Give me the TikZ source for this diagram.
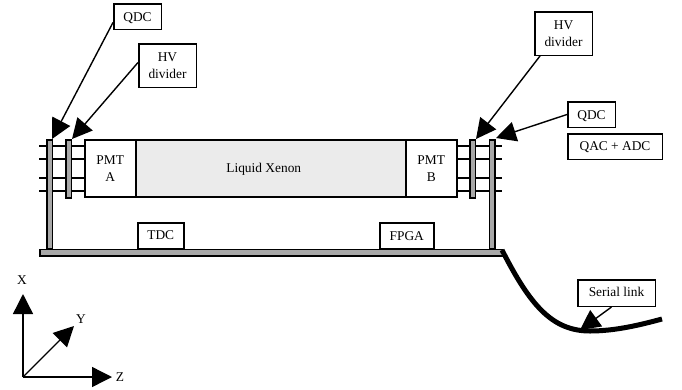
\documentclass[tikz,border=0pt]{standalone}
\usepackage{fontspec}
\setmainfont{Liberation Serif}
\usetikzlibrary{arrows.meta}
\definecolor{bargray}{gray}{0.66}
\definecolor{xenon}{gray}{0.92}
\newcommand{\dn}[2]{\raisebox{-#1pt}[0.7em][0.2em]{#2}}
\tikzset{
  x=1pt,y=-1pt,
  box/.style={draw=black,line width=1.5pt,fill=white,inner sep=0pt,font=\fontsize{13.4}{16.8}\selectfont,align=center,anchor=north west},
  bar/.style={draw=black,line width=1.5pt,fill=bargray,inner sep=0pt,anchor=north west},
  wire/.style={black,line width=1.4pt},
  pointer/.style={black,line width=1.4pt,-{Triangle[length=20pt,width=20pt]}},
  axis/.style={black,line width=1.4pt,-{Triangle[length=20pt,width=20pt]}},
  lab/.style={inner sep=0pt,font=\fontsize{13.4}{15.5}\selectfont},
}
\begin{document}
\begin{tikzpicture}
\useasboundingbox (0,0) rectangle (682,389);
% wires
\foreach \y in {146,159,178,191}{
  \draw[wire] (39,\y) -- (84,\y);
  \draw[wire] (457,\y) -- (502,\y);
}
% detector
\node[box,fill=xenon,minimum width=270pt,minimum height=57pt] (xe) at (135,139) {\mbox{\dn{0.5}{Liquid Xenon}\hspace{14pt}}};
\node[box,minimum width=51pt,minimum height=57pt] (pmta) at (84,139) {PMT\\A};
\node[box,minimum width=51pt,minimum height=57pt] (pmtb) at (405,139) {PMT\\B};
% bars
\node[bar,minimum width=5.5pt,minimum height=109pt] (qdcbarl) at (46,139) {};
\node[bar,minimum width=5.5pt,minimum height=58pt] (hvbarl) at (65,139) {};
\node[bar,minimum width=5.5pt,minimum height=58pt] (hvbarr) at (469,139) {};
\node[bar,minimum width=5.5pt,minimum height=109pt] (qdcbarr) at (488.5,139) {};
\node[bar,minimum width=462.5pt,minimum height=6.5pt] (base) at (39,248.5) {};
\node[box,minimum width=46pt,minimum height=26pt] (tdc) at (137,222) {\dn{0.5}{TDC}};
\node[box,minimum width=54pt,minimum height=26pt] (fpga) at (379,222) {\dn{1}{FPGA}};
% labels
\node[box,minimum width=47.5pt,minimum height=25.5pt] (qdcl) at (113,3) {\dn{1.5}{QDC}};
\node[box,minimum width=57.5pt,minimum height=43.5pt] (hvl) at (138,43) {HV\\divider};
\node[box,minimum width=57.5pt,minimum height=43.5pt] (hvr) at (534,11) {HV\\divider};
\node[box,minimum width=47.5pt,minimum height=25.5pt] (qdcr) at (567,101) {\dn{1.5}{QDC}};
\node[box,minimum width=94.5pt,minimum height=25.5pt] (qac) at (567,133) {\dn{1}{QAC + ADC}};
\node[box,minimum width=77.5pt,minimum height=26.5pt] (serial) at (577,279) {\dn{0}{Serial link}};
% pointers
\coordinate (t1) at (52,139); \coordinate (t2) at (72,139);
\coordinate (t3) at (476,139); \coordinate (t4) at (496,138);
\coordinate (t5) at (580,330);
\draw[pointer] (qdcl.west) ++(0,6) -- (t1);
\draw[pointer] (hvl.west) ++(0,-3) -- (t2);
\draw[pointer] (hvr.south west) ++(6,0) -- (t3);
\draw[pointer] (qdcr.west) -- (t4);
\draw[pointer] (serial.south) ++(-5,0) -- (t5);
% cable
\coordinate (c0) at (502,250); \coordinate (c1) at (662,319);
\draw[black,line width=5pt] (c0) .. controls (530,305) and (552,331) .. (590,331) .. controls (615,331) and (640,325) .. (c1);
% axes
\coordinate (o) at (23,377);
\coordinate (xt) at (23,294); \coordinate (yt) at (74,326); \coordinate (zt) at (112,377);
\draw[axis] (o) -- (xt);
\draw[axis] (o) -- (yt);
\draw[axis] (o) -- (zt);
\node[lab] (xl) at (22,280) {X};
\node[lab] (yl) at (81,319) {Y};
\node[lab] (zl) at (120,377) {Z};
\end{tikzpicture}
\end{document}
